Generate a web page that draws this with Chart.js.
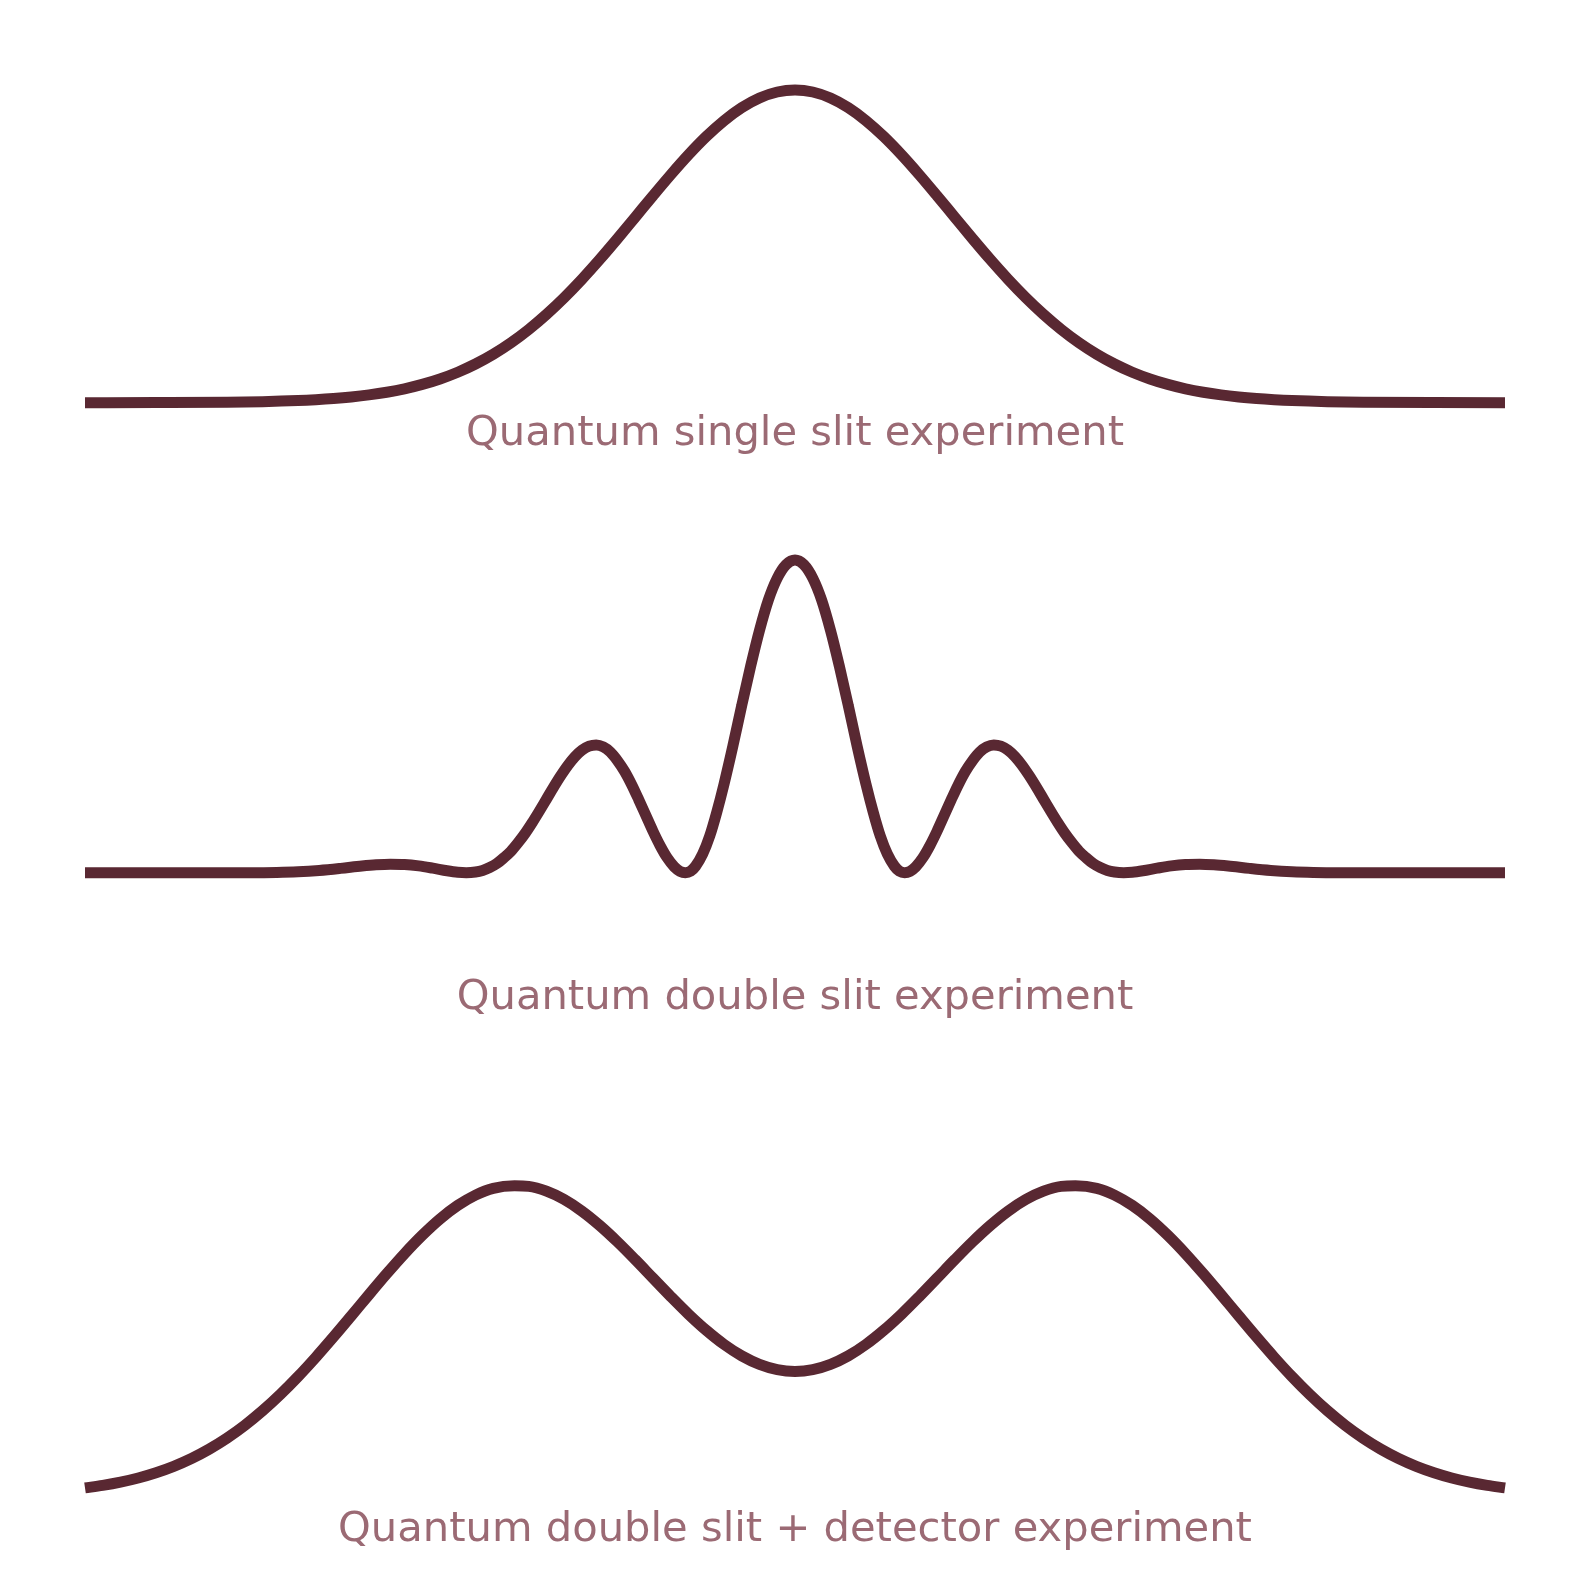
<!DOCTYPE html>
<html>
<head>
<meta charset="utf-8">
<script src="https://cdn.jsdelivr.net/npm/chart.js@4.4.1/dist/chart.umd.min.js"></script>
<style>
  html, body { margin: 0; padding: 0; background: #ffffff; }
  body { width: 1589px; height: 1580px; position: relative; overflow: hidden; }
  canvas { position: absolute; left: 0; }
</style>
</head>
<body>
<canvas id="c1" width="1589" height="459" style="top:0px"></canvas>
<canvas id="c2" width="1589" height="553" style="top:470px"></canvas>
<canvas id="c3" width="1589" height="525" style="top:1030px"></canvas>
<script>
// ---- Data ----
const titles = [
  "Quantum single slit experiment",
  "Quantum double slit experiment",
  "Quantum double slit + detector experiment"
];

// Single slit: screen position vs. relative intensity
const singleX = [-10, -9, -8, -7.5, -7, -6.75, -6.5, -6.25, -6, -5.75, -5.5, -5.25, -5, -4.75, -4.5, -4.25, -4, -3.75,
                 -3.5, -3.25, -3, -2.75, -2.5, -2.25, -2, -1.75, -1.5, -1.25, -1, -0.75, -0.5, -0.25, 0,
                 0.25, 0.5, 0.75, 1, 1.25, 1.5, 1.75, 2, 2.25, 2.5, 2.75, 3, 3.25, 3.5,
                 3.75, 4, 4.25, 4.5, 4.75, 5, 5.25, 5.5, 5.75, 6, 6.25, 6.5, 6.75, 7, 7.5, 8, 9, 10];
const singleY = [0, 0.0003, 0.0014, 0.0032, 0.0068, 0.0097, 0.0135, 0.0185, 0.025, 0.0335, 0.0445, 0.0585, 0.076, 0.0975, 0.1237, 0.155, 0.1918, 0.2343,
                 0.2825, 0.3362, 0.395, 0.4582, 0.5247, 0.5931, 0.6618, 0.729, 0.7928, 0.8511, 0.9019, 0.9436, 0.9745, 0.9936, 1,
                 0.9936, 0.9745, 0.9436, 0.9019, 0.8511, 0.7928, 0.729, 0.6618, 0.5931, 0.5247, 0.4582, 0.395, 0.3362, 0.2825,
                 0.2343, 0.1918, 0.155, 0.1237, 0.0975, 0.076, 0.0585, 0.0445, 0.0335, 0.025, 0.0185, 0.0135, 0.0097, 0.0068, 0.0032, 0.0014, 0.0003, 0];

// Double slit: interference fringes
const doubleX = [-10, -8.5, -7.7, -7.3, -7.0, -6.7, -6.4, -6.1, -5.9, -5.7, -5.5, -5.3, -5.1, -4.9, -4.75, -4.63, -4.5, -4.4, -4.3, -4.2,
                 -4.1, -4.0, -3.9, -3.8, -3.7, -3.6, -3.5, -3.4, -3.3, -3.2, -3.1, -3.0, -2.9, -2.8, -2.7, -2.6, -2.5, -2.4, -2.3, -2.2,
                 -2.1, -2.0, -1.9, -1.8, -1.7, -1.62, -1.544, -1.47, -1.4, -1.3, -1.2, -1.1, -1.0, -0.875, -0.75, -0.625, -0.5, -0.375, -0.25, -0.125, 0,
                 0.125, 0.25, 0.375, 0.5, 0.625, 0.75, 0.875, 1.0, 1.1, 1.2, 1.3, 1.4, 1.47, 1.544, 1.62, 1.7, 1.8, 1.9, 2.0,
                 2.1, 2.2, 2.3, 2.4, 2.5, 2.6, 2.7, 2.8, 2.9, 3.0, 3.1, 3.2, 3.3, 3.4, 3.5, 3.6, 3.7, 3.8, 3.9, 4.0,
                 4.1, 4.2, 4.3, 4.4, 4.5, 4.63, 4.75, 4.9, 5.1, 5.3, 5.5, 5.7, 5.9, 6.1, 6.4, 6.7, 7.0, 7.3, 7.7, 8.5, 10];
const doubleY = [0, 0, 0, 0.0007, 0.0028, 0.0072, 0.0138, 0.0214, 0.0254, 0.0274, 0.0264, 0.0218, 0.0144, 0.0061, 0.0014, 0, 0.0022, 0.0073, 0.0165, 0.0292,
                 0.0478, 0.0687, 0.096, 0.1262, 0.1605, 0.1973, 0.2354, 0.2736, 0.3099, 0.343, 0.3709, 0.3919, 0.4046, 0.4084, 0.4021, 0.3855, 0.3583, 0.3241, 0.2814, 0.233,
                 0.1828, 0.1326, 0.0867, 0.0476, 0.0186, 0.0046, 0, 0.005, 0.021, 0.06, 0.118, 0.195, 0.283, 0.405, 0.535, 0.66, 0.775, 0.872, 0.942, 0.985, 1,
                 0.985, 0.942, 0.872, 0.775, 0.66, 0.535, 0.405, 0.283, 0.195, 0.118, 0.06, 0.021, 0.005, 0, 0.0046, 0.0186, 0.0476, 0.0867, 0.1326,
                 0.1828, 0.233, 0.2814, 0.3241, 0.3583, 0.3855, 0.4021, 0.4084, 0.4046, 0.3919, 0.3709, 0.343, 0.3099, 0.2736, 0.2354, 0.1973, 0.1605, 0.1262, 0.096, 0.0687,
                 0.0478, 0.0292, 0.0165, 0.0073, 0.0022, 0, 0.0014, 0.0061, 0.0144, 0.0218, 0.0264, 0.0274, 0.0254, 0.0214, 0.0138, 0.0072, 0.0028, 0.0007, 0, 0, 0];

// Double slit + detector: two separate humps
const detX = [-10, -9.75, -9.5, -9.25, -9, -8.75, -8.5, -8.25, -8, -7.75, -7.5, -7.25, -7, -6.75, -6.5, -6.25, -6, -5.75, -5.5, -5.25,
              -5, -4.75, -4.5, -4.25, -3.95, -3.75, -3.5, -3.25, -3, -2.75, -2.5, -2.25, -2, -1.75, -1.5, -1.25, -1, -0.75, -0.5, -0.25, 0,
              0.25, 0.5, 0.75, 1, 1.25, 1.5, 1.75, 2, 2.25, 2.5, 2.75, 3, 3.25, 3.5, 3.75, 3.95, 4.25, 4.5, 4.75,
              5, 5.25, 5.5, 5.75, 6, 6.25, 6.5, 6.75, 7, 7.25, 7.5, 7.75, 8, 8.25, 8.5, 8.75, 9, 9.25, 9.5, 9.75, 10];
const detY = [0.0229, 0.0311, 0.0416, 0.0551, 0.072, 0.0928, 0.1181, 0.1484, 0.184, 0.2253, 0.2724, 0.325, 0.3829, 0.4453, 0.5112, 0.5793, 0.6481, 0.7158, 0.7805, 0.84,
              0.8928, 0.9365, 0.9699, 0.9918, 1.0, 0.9981, 0.9826, 0.9555, 0.9179, 0.8716, 0.8186, 0.761, 0.7013, 0.6419, 0.5848, 0.5327, 0.4871, 0.4499, 0.4224, 0.4054, 0.3998,
              0.4054, 0.4224, 0.4499, 0.4871, 0.5327, 0.5848, 0.6419, 0.7013, 0.761, 0.8186, 0.8716, 0.9179, 0.9555, 0.9826, 0.9981, 1.0, 0.9918, 0.9699, 0.9365,
              0.8928, 0.84, 0.7805, 0.7158, 0.6481, 0.5793, 0.5112, 0.4453, 0.3829, 0.325, 0.2724, 0.2253, 0.184, 0.1484, 0.1181, 0.0928, 0.072, 0.0551, 0.0416, 0.0311, 0.0229];

// ---- Styling ----
const LINE_COLOR = '#592832';
const TEXT_COLOR = '#9b6a74';
const FONT = "'DejaVu Sans', 'Liberation Sans', sans-serif";

function toPoints(xs, ys) {
  return xs.map((x, i) => ({ x: x, y: ys[i] }));
}

function makeChart(id, xs, ys, title, padTop, titlePad) {
  return new Chart(document.getElementById(id), {
    type: 'line',
    data: {
      datasets: [{
        data: toPoints(xs, ys),
        borderColor: LINE_COLOR,
        borderWidth: 11,
        borderCapStyle: 'butt',
        borderJoinStyle: 'round',
        pointRadius: 0,
        fill: false,
        cubicInterpolationMode: 'monotone',
        clip: false
      }]
    },
    options: {
      responsive: false,
      animation: false,
      events: [],
      layout: { padding: { left: 85, right: 84, top: padTop, bottom: 0 } },
      scales: {
        x: { type: 'linear', min: -10, max: 10, display: false },
        y: { type: 'linear', min: 0, max: 1, display: false }
      },
      plugins: {
        legend: { display: false },
        tooltip: { enabled: false },
        title: {
          display: true,
          position: 'bottom',
          text: title,
          color: TEXT_COLOR,
          font: { family: FONT, size: 41.67, weight: 'normal', lineHeight: 1.2 },
          padding: { top: titlePad, bottom: 0 }
        }
      }
    }
  });
}

makeChart('c1', singleX, singleY, titles[0], 90, 6.3);
makeChart('c2', doubleX, doubleY, titles[1], 90, 100.3);
makeChart('c3', detX, detY, titles[2], 155.8, 10);
</script>
</body>
</html>
